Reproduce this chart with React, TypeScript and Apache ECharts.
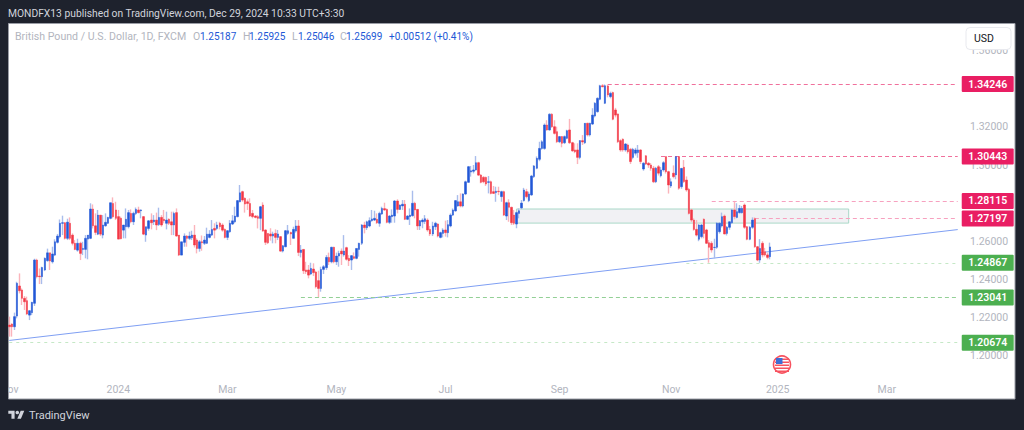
import React, { useEffect, useRef } from "react";
import * as echarts from "echarts";

// Rows are [open, high, low, close].
const candlesNovJan = [
[1.2160,1.2204,1.2099,1.2151],[1.2165,1.2169,1.2099,1.2151],[1.2151,1.2225,1.2134,1.2204],[1.2207,1.2387,1.2195,1.2379],[1.2365,1.2431,1.2326,1.2340],
[1.2344,1.2352,1.2265,1.2300],[1.2300,1.2312,1.2239,1.2282],[1.2288,1.2309,1.2212,1.2218],[1.2212,1.2239,1.2186,1.2235],[1.2225,1.2282,1.2212,1.2279],
[1.2274,1.2508,1.2260,1.2501],[1.2501,1.2508,1.2405,1.2414],[1.2417,1.2457,1.2375,1.2414],[1.2414,1.2466,1.2375,1.2462],[1.2449,1.2515,1.2443,1.2510],
[1.2498,1.2561,1.2492,1.2539],[1.2539,1.2539,1.2449,1.2496],[1.2492,1.2571,1.2483,1.2533],[1.2527,1.2610,1.2522,1.2597],[1.2594,1.2638,1.2588,1.2627],
[1.2624,1.2714,1.2615,1.2694],[1.2694,1.2734,1.2632,1.2697],[1.2697,1.2700,1.2609,1.2615],[1.2615,1.2718,1.2606,1.2700],[1.2694,1.2725,1.2606,1.2615],
[1.2632,1.2641,1.2578,1.2589],[1.2589,1.2606,1.2553,1.2557],[1.2553,1.2613,1.2545,1.2589],[1.2589,1.2597,1.2501,1.2536],[1.2557,1.2597,1.2527,1.2562],
[1.2557,1.2632,1.2510,1.2615],[1.2611,1.2632,1.2505,1.2632],[1.2615,1.2799,1.2611,1.2769],[1.2769,1.2793,1.2667,1.2681],[1.2681,1.2746,1.2632,1.2646],
[1.2637,1.2764,1.2632,1.2737],[1.2737,1.2737,1.2627,1.2637],[1.2632,1.2737,1.2615,1.2685],[1.2681,1.2746,1.2676,1.2699],[1.2694,1.2728,1.2690,1.2725],
[1.2720,1.2802,1.2715,1.2802],[1.2798,1.2830,1.2720,1.2729],[1.2764,1.2807,1.2711,1.2720],[1.2729,1.2764,1.2610,1.2611],[1.2720,1.2729,1.2610,1.2613],
[1.2658,1.2685,1.2615,1.2685],[1.2676,1.2772,1.2615,1.2715],[1.2676,1.2764,1.2667,1.2750],[1.2746,1.2767,1.2694,1.2702],[1.2702,1.2755,1.2685,1.2746],
];
const candlesFebApr = [
[1.2746,1.2777,1.2737,1.2767],[1.2764,1.2781,1.2746,1.2750],[1.2760,1.2767,1.2720,1.2764],[1.2729,1.2732,1.2632,1.2637],[1.2632,1.2676,1.2597,1.2676],
[1.2667,1.2711,1.2655,1.2707],[1.2711,1.2746,1.2662,1.2697],[1.2702,1.2737,1.2685,1.2711],[1.2711,1.2750,1.2658,1.2685],[1.2688,1.2776,1.2680,1.2725],
[1.2725,1.2737,1.2676,1.2685],[1.2715,1.2764,1.2694,1.2708],[1.2694,1.2755,1.2662,1.2711],[1.2715,1.2720,1.2685,1.2694],[1.2702,1.2755,1.2632,1.2685],
[1.2685,1.2755,1.2632,1.2746],[1.2750,1.2772,1.2624,1.2627],[1.2632,1.2632,1.2522,1.2527],[1.2527,1.2597,1.2527,1.2597],[1.2594,1.2641,1.2571,1.2627],
[1.2627,1.2632,1.2571,1.2615],[1.2615,1.2650,1.2606,1.2627],[1.2618,1.2655,1.2606,1.2632],[1.2632,1.2685,1.2567,1.2580],[1.2606,1.2615,1.2536,1.2562],
[1.2562,1.2606,1.2545,1.2597],[1.2597,1.2630,1.2550,1.2592],[1.2589,1.2627,1.2580,1.2606],[1.2589,1.2671,1.2585,1.2637],[1.2620,1.2658,1.2615,1.2637],
[1.2632,1.2711,1.2627,1.2662],[1.2667,1.2694,1.2615,1.2658],[1.2667,1.2702,1.2658,1.2685],[1.2694,1.2702,1.2662,1.2676],[1.2685,1.2694,1.2650,1.2658],
[1.2662,1.2667,1.2615,1.2620],[1.2620,1.2658,1.2606,1.2655],[1.2650,1.2711,1.2644,1.2694],[1.2690,1.2737,1.2685,1.2707],[1.2702,1.2781,1.2694,1.2732],
[1.2729,1.2816,1.2725,1.2813],[1.2807,1.2895,1.2804,1.2854],[1.2860,1.2865,1.2807,1.2816],[1.2825,1.2830,1.2750,1.2795],[1.2807,1.2819,1.2764,1.2798],
[1.2798,1.2825,1.2728,1.2732],[1.2746,1.2764,1.2720,1.2729],[1.2732,1.2737,1.2720,1.2725],[1.2729,1.2737,1.2667,1.2720],[1.2720,1.2785,1.2658,1.2781],
[1.2790,1.2804,1.2650,1.2653],[1.2659,1.2662,1.2580,1.2594],[1.2641,1.2641,1.2585,1.2592],[1.2638,1.2668,1.2603,1.2627],[1.2627,1.2650,1.2589,1.2638],
[1.2641,1.2662,1.2589,1.2620],[1.2620,1.2659,1.2606,1.2638],[1.2624,1.2627,1.2545,1.2548],[1.2548,1.2580,1.2541,1.2576],[1.2571,1.2659,1.2568,1.2655],
[1.2641,1.2685,1.2632,1.2655],[1.2646,1.2650,1.2580,1.2638],[1.2615,1.2676,1.2615,1.2662],[1.2653,1.2711,1.2645,1.2680],[1.2680,1.2711,1.2522,1.2541],
[1.2541,1.2580,1.2515,1.2554],[1.2557,1.2557,1.2428,1.2445],[1.2449,1.2492,1.2428,1.2440],[1.2449,1.2475,1.2405,1.2422],[1.2428,1.2487,1.2422,1.2457],
[1.2454,1.2484,1.2417,1.2435],[1.2438,1.2445,1.2352,1.2361],[1.2393,1.2445,1.23041,1.2352],
];
const candlesMayJul = [
[1.2352,1.2466,1.2335,1.2452],[1.2452,1.2475,1.2428,1.2466],[1.2461,1.2527,1.2449,1.2515],[1.2515,1.2540,1.2475,1.2492],[1.2492,1.2571,1.2484,1.2568],
[1.2568,1.2571,1.2484,1.2492],[1.2492,1.2540,1.2475,1.2522],[1.2522,1.2550,1.2466,1.2536],[1.2548,1.2562,1.2475,1.2533],[1.2528,1.2632,1.2519,1.2548],
[1.2566,1.2571,1.2498,1.2505],[1.2510,1.2527,1.2470,1.2498],[1.2501,1.2527,1.2449,1.2524],[1.2519,1.2541,1.2505,1.2510],[1.2510,1.2562,1.2505,1.2562],
[1.2557,1.2592,1.2519,1.2589],[1.2589,1.2690,1.2580,1.2685],[1.2685,1.2702,1.2641,1.2671],[1.2671,1.2708,1.2659,1.2702],[1.2680,1.2725,1.2673,1.2708],
[1.2708,1.2764,1.2702,1.2717],[1.2711,1.2760,1.2706,1.2720],[1.2715,1.2746,1.2690,1.2697],[1.2694,1.2755,1.2676,1.2746],[1.2743,1.2781,1.2738,1.2772],
[1.2771,1.2802,1.2759,1.2764],[1.2767,1.2772,1.2694,1.2699],[1.2699,1.2737,1.2690,1.2732],[1.2729,1.2767,1.2697,1.2737],[1.2732,1.2816,1.2697,1.2811],
[1.2811,1.2820,1.2746,1.2767],[1.2767,1.2793,1.2764,1.2790],[1.2785,1.2816,1.2764,1.2794],[1.2794,1.2816,1.2711,1.2715],[1.2715,1.2737,1.2711,1.2732],
[1.2729,1.2772,1.2685,1.2737],[1.2734,1.2865,1.2729,1.2799],[1.2799,1.2807,1.2720,1.2764],[1.2767,1.2767,1.2659,1.2680],[1.2680,1.2711,1.2659,1.2708],
[1.2702,1.2720,1.2668,1.2711],[1.2704,1.2737,1.2690,1.2718],[1.2711,1.2720,1.2650,1.2659],[1.2662,1.2680,1.2627,1.2638],[1.2638,1.2702,1.2627,1.2680],
[1.2676,1.2702,1.2659,1.2694],[1.2690,1.2694,1.2620,1.2627],[1.2620,1.2650,1.2615,1.2645],[1.2641,1.2668,1.2620,1.2659],[1.2659,1.2708,1.2624,1.2645],
[1.2645,1.2711,1.2620,1.2687],[1.2680,1.2746,1.2673,1.2737],[1.2737,1.2772,1.2732,1.2764],[1.2759,1.2816,1.2755,1.2813],[1.2785,1.2842,1.2781,1.2807],
[1.2807,1.2851,1.2778,1.2785],[1.2785,1.2851,1.2778,1.2848],[1.2848,1.2918,1.2842,1.2912],[1.2909,1.2995,1.2907,1.2991],[1.2963,1.2995,1.2939,1.2970],
[1.2967,1.3000,1.2956,1.2974],[1.2974,1.3047,1.2970,1.3012],[1.3012,1.3017,1.2942,1.2947],[1.2947,1.2953,1.2904,1.2909],[1.2935,1.2942,1.2904,1.2912],
[1.2935,1.2939,1.2890,1.2900],[1.2909,1.2942,1.2851,1.2912],[1.2912,1.2918,1.2846,1.2851],[1.2860,1.2890,1.2848,1.2851],[1.2855,1.2886,1.2807,1.2862],
[1.2862,1.2886,1.2842,1.2860],[1.2834,1.2865,1.2807,1.2860],[1.2860,1.2865,1.2732,1.2737],[1.2732,1.2807,1.2711,1.2802],[1.2802,1.2820,1.2702,1.2778],
[1.2778,1.2781,1.2685,1.2697],[1.2737,1.2764,1.2685,1.2694],[1.2690,1.2755,1.2668,1.2750],[1.2746,1.2772,1.2720,1.2760],
];
const candlesAugOct = [
[1.2775,1.2816,1.2768,1.2800],[1.2813,1.2880,1.2808,1.2869],[1.2860,1.2875,1.2825,1.2834],[1.2813,1.2860,1.2805,1.2848],[1.2843,1.2948,1.2838,1.2942],
[1.2939,1.3000,1.2932,1.2995],[1.2983,1.3045,1.2978,1.3035],[1.3030,1.3122,1.3020,1.3087],[1.3087,1.3130,1.3080,1.3122],[1.3087,1.3218,1.3080,1.3210],
[1.3210,1.3235,1.3180,1.3184],[1.3184,1.3272,1.3180,1.3266],[1.3266,1.3272,1.3195,1.3201],[1.3201,1.3235,1.3160,1.3166],[1.3175,1.3201,1.3115,1.3122],
[1.3122,1.3152,1.3115,1.3149],[1.3149,1.3152,1.3093,1.3114],[1.3117,1.3155,1.3110,1.3149],[1.3140,1.3185,1.3135,1.3180],[1.3184,1.3242,1.3110,1.3117],
[1.3117,1.3122,1.3070,1.3074],[1.3079,1.3114,1.3062,1.3070],[1.3079,1.3114,1.3005,1.3040],[1.3040,1.3130,1.3030,1.3128],[1.3128,1.3157,1.3105,1.3121],
[1.3117,1.3220,1.3110,1.3219],[1.3219,1.3222,1.3150,1.3158],[1.3158,1.3222,1.3150,1.3219],[1.3215,1.3298,1.3210,1.3262],[1.3257,1.3330,1.3250,1.3324],
[1.3280,1.3355,1.3275,1.3350],[1.3345,1.3421,1.3340,1.3416],[1.3416,1.34246,1.3408,1.3411],[1.3324,1.3423,1.3320,1.3416],[1.3415,1.3422,1.3355,1.3368],
[1.3359,1.3385,1.3350,1.3376],[1.3380,1.3385,1.3235,1.3240],[1.3289,1.3300,1.3250,1.3262],[1.3268,1.3270,1.3115,1.3122],[1.3128,1.3135,1.3070,1.3079],
[1.3135,1.3140,1.3070,1.3079],[1.3079,1.3115,1.3070,1.3110],[1.3105,1.3112,1.3060,1.3070],[1.3082,1.3090,1.3005,1.3018],[1.3040,1.3090,1.3030,1.3082],
[1.3062,1.3090,1.3050,1.3079],[1.3065,1.3105,1.3038,1.3079],[1.3079,1.3082,1.3005,1.3018],[1.2979,1.3015,1.2970,1.3009],[1.3048,1.3052,1.3000,1.3005],
[1.3009,1.3015,1.2985,1.3000],[1.3000,1.3010,1.2970,1.2983],[1.2983,1.2995,1.2905,1.2912],[1.2912,1.2990,1.2905,1.2983],[1.2991,1.3000,1.2945,1.2957],
[1.2944,1.2990,1.2935,1.2974],[1.2974,1.3020,1.2965,1.3012],[1.3044,1.3044,1.2955,1.2965],[1.2965,1.2970,1.2850,1.2895],[1.2890,1.2930,1.2880,1.2912],
[1.2957,1.2998,1.2930,1.2939],[1.2948,1.3044,1.2925,1.3044],
];
const candlesNovDec = [
[1.3044,1.3044,1.2870,1.2878],[1.2886,1.2985,1.2875,1.2982],[1.2988,1.3026,1.2905,1.2913],[1.2921,1.2940,1.2860,1.2869],[1.2872,1.2880,1.2740,1.2746],
[1.2764,1.2770,1.2700,1.2711],[1.2711,1.2720,1.2655,1.2662],[1.2662,1.2711,1.2625,1.2632],[1.2610,1.2690,1.2600,1.2685],[1.2624,1.2690,1.2615,1.2685],
[1.2715,1.2720,1.2615,1.2641],[1.2659,1.2665,1.2585,1.2589],[1.2592,1.2606,1.2487,1.2568],[1.2589,1.2600,1.2540,1.2554],[1.2567,1.2613,1.2510,1.2568],
[1.2568,1.2700,1.2560,1.2694],[1.2650,1.2700,1.2640,1.2694],[1.2680,1.2750,1.2672,1.2729],[1.2732,1.2740,1.2636,1.2638],[1.2641,1.2680,1.2630,1.2673],
[1.2673,1.2705,1.2660,1.2702],[1.2697,1.2770,1.2690,1.2764],[1.2764,1.28115,1.2715,1.2729],[1.2725,1.2799,1.2720,1.2755],[1.2750,1.2790,1.2745,1.2772],
[1.2750,1.2785,1.2745,1.2772],[1.2790,1.2798,1.2665,1.2673],[1.2676,1.2680,1.2605,1.2610],[1.2610,1.2680,1.2605,1.2673],[1.2673,1.2725,1.2665,1.2711],
[1.2718,1.2725,1.2565,1.2571],[1.2571,1.2575,1.2495,1.2501],[1.2501,1.2611,1.24867,1.2562],[1.2589,1.2600,1.2515,1.2528],[1.2545,1.2565,1.2520,1.2528],
[1.2528,1.2540,1.2505,1.2515],[1.25187,1.25925,1.25046,1.25699],
];

const tickLabels = ["Nov", "2024", "Mar", "May", "Jul", "Sep", "Nov", "2025", "Mar"];
const tickBars = [0, 43, 86, 129, 172, 217, 261, 303, 346];
const barCount = 375;

const levelPrices = [1.34246, 1.30443, 1.28115, 1.27197, 1.24867, 1.23041, 1.20674];
const levelStartBars = [236, 257, 277, 294, 267, 115, 0];
const levelLineColors = ["#f0709c", "#f0709c", "#f7a1bf", "#f7a1bf", "#c5e8c6", "#93d096", "#c5e8c6"];
const levelDashes = [[4, 3], [4, 3], [4, 3], [4, 3], [3, 4], [4, 3], [3, 4]];
const levelTagColors = ["#e91e63", "#e91e63", "#e91e63", "#e91e63", "#4caf50", "#4caf50", "#4caf50"];

const trendBars = [0, 374];
const trendPrices = [1.2079, 1.2661];

const zoneBars = [200, 331];
const zonePrices = [1.2769, 1.2695];

const priceMin = 1.18;
const priceMax = 1.36;
const priceStep = 0.02;

const legendItems: [string, number, string, number][] = [
  ["British Pound / U.S. Dollar, 1D, FXCM", 15, "#b2b5be", 10.6],
  ["O", 193, "#b2b5be", 10.5],
  ["1.25187", 200, "#2157d6", 10],
  ["H", 243, "#b2b5be", 10.5],
  ["1.25925", 249, "#2157d6", 10],
  ["L", 292, "#b2b5be", 10.5],
  ["1.25046", 298, "#2157d6", 10],
  ["C", 340, "#b2b5be", 10.5],
  ["1.25699", 346, "#2157d6", 10],
  ["+0.00512 (+0.41%)", 389, "#2157d6", 10],
];

const candles = [...candlesNovJan, ...candlesFebApr, ...candlesMayJul, ...candlesAugOct, ...candlesNovDec];
const UP = "#2157d6";
const DOWN = "#f23645";
const UP_WICK = "#a9bdec";
const DOWN_WICK = "#fbb4bb";
const FONT = "Roboto, sans-serif";
const DARK = "#1e222d";

echarts.graphic.registerShape(
  "tvLogo",
  echarts.graphic.extendPath("M14 22H7V11H0V4h14v18zM28 22h-8l7.5-18h8L28 22z", {}) as any
);

export default function App() {
  const ref = useRef<HTMLDivElement>(null);
  useEffect(() => {
    const chart = echarts.init(ref.current!, null, { renderer: "svg" });
    const categories = Array.from({ length: barCount }, (_, i) => {
      const t = tickBars.indexOf(i);
      return t >= 0 ? tickLabels[t] : "";
    });
    const flagStripes = [0, 1, 2, 3, 4].map((k) => ({
      type: "rect",
      shape: { x: 775, y: 358.5 + k * 3, width: 14, height: 1.5 },
      style: { fill: "#f7525f" },
      z: 51,
    }));
    chart.setOption({
      animation: false,
      backgroundColor: DARK,
      textStyle: { fontFamily: FONT },
      grid: { left: 8, width: 951, top: 50.7, height: 342.9, outerBoundsMode: "none" },
      xAxis: {
        type: "category",
        data: categories,
        boundaryGap: true,
        axisLine: { show: false },
        axisTick: { show: false },
        splitLine: { show: false },
        axisLabel: {
          inside: true,
          margin: -1,
          interval: (_: number, v: string) => v !== "",
          color: "#b2b5be",
          fontFamily: FONT,
          fontSize: 10.5,
        },
      },
      yAxis: {
        type: "value",
        position: "right",
        min: priceMin,
        max: priceMax,
        interval: priceStep,
        axisLine: { show: false },
        axisTick: { show: false },
        splitLine: { show: false },
        axisLabel: {
          margin: 11,
          color: "#b2b5be",
          fontFamily: FONT,
          fontSize: 10.5,
          formatter: (v: number) => (Math.abs(v - priceMin) < 1e-6 ? "" : v.toFixed(5)),
        },
      },
      series: [
        {
          type: "line",
          name: "Trend",
          data: trendBars.map((b, i) => [b, trendPrices[i]]),
          showSymbol: false,
          silent: true,
          z: 3,
          lineStyle: { color: "#7f9ff3", width: 1 },
          markArea: {
            silent: true,
            itemStyle: { color: "#f1f1f4", borderColor: "#a9d8c8", borderWidth: 1 },
            data: [[
              { coord: [zoneBars[0], zonePrices[0]] },
              { coord: [zoneBars[1], zonePrices[1]] },
            ]],
          },
        },
        {
          type: "candlestick",
          name: "Wicks",
          silent: true,
          z: 4,
          barWidth: 1,
          data: candles.map(([o, h, l, c]) => [o, c, l, h]),
          itemStyle: {
            color: UP_WICK, color0: DOWN_WICK,
            borderColor: UP_WICK, borderColor0: DOWN_WICK, borderWidth: 1.4,
          },
        },
        {
          type: "candlestick",
          name: "GBPUSD",
          silent: true,
          z: 5,
          barWidth: 2,
          data: candles.map(([o, , , c]) => [o, c, Math.min(o, c), Math.max(o, c)]),
          itemStyle: {
            color: UP, color0: DOWN,
            borderColor: UP, borderColor0: DOWN, borderWidth: 0.5,
          },
        },
        ...levelPrices.map((price, i) => ({
          type: "line",
          name: "Level " + price,
          data: [],
          silent: true,
          z: 6,
          markLine: {
            silent: true,
            symbol: "none",
            animation: false,
            lineStyle: { color: levelLineColors[i], width: 1, type: levelDashes[i] },
            label: {
              show: true,
              position: "end",
              distance: 4,
              formatter: price.toFixed(5),
              color: "#ffffff",
              backgroundColor: levelTagColors[i],
              borderRadius: 1,
              padding: [2, 6.5, 2, 6.5],
              fontFamily: FONT,
              fontSize: 10.5,
              fontWeight: 600,
              lineHeight: 12,
            },
            data: [[
              { coord: [levelStartBars[i], price] },
              { coord: [barCount - 1, price] },
            ]],
          },
        })),
      ],
      graphic: {
        elements: [
          { type: "rect", z: -1, silent: true, shape: { x: 8.5, y: 23.5, width: 1006.5, height: 375.5 }, style: { fill: "#ffffff", stroke: "#9a9da6", lineWidth: 1 } },
          { type: "rect", z: 40, silent: true, shape: { x: 0, y: 375, width: 8, height: 25 }, style: { fill: DARK } },
          { type: "text", z: 50, x: 8, y: 13, style: { text: "MONDFX13 published on TradingView.com, Dec 29, 2024 10:33 UTC+3:30", fill: "#d1d4dc", font: `10.3px ${FONT}`, textVerticalAlign: "middle" } },
          ...legendItems.map(([text, x, fill, size]) => ({
            type: "text", z: 50, x, y: 36.5,
            style: { text, fill, font: `${size}px ${FONT}`, textVerticalAlign: "middle" },
          })),
          { type: "rect", z: 50, shape: { x: 966, y: 27.5, width: 45, height: 22, r: 4 }, style: { fill: "#ffffff", stroke: "#e8e9ee", lineWidth: 1 } },
          { type: "text", z: 51, x: 974, y: 38, style: { text: "USD", fill: "#131722", font: `10.5px ${FONT}`, textVerticalAlign: "middle" } },
          { type: "circle", z: 50, shape: { cx: 782, cy: 364.5, r: 8.5 }, style: { fill: "#ffffff", stroke: "#f7525f", lineWidth: 1.6 } },
          ...flagStripes,
          { type: "rect", z: 52, shape: { x: 776, y: 358, width: 6.5, height: 6 }, style: { fill: "#3d6fd6" } },
          { type: "tvLogo", z: 50, x: 8.3, y: 408.9, scaleX: 0.45, scaleY: 0.45, style: { fill: "#d1d4dc" } },
          { type: "circle", z: 50, shape: { cx: 17.3, cy: 412.5, r: 1.8 }, style: { fill: "#d1d4dc" } },
          { type: "text", z: 50, x: 29, y: 415, style: { text: "TradingView", fill: "#d1d4dc", font: `11px ${FONT}`, textVerticalAlign: "middle" } },
        ],
      },
    });
    return () => chart.dispose();
  }, []);
  return <div ref={ref} style={{ position: "fixed", left: 0, top: 0, width: 1024, height: 430 }} />;
}
